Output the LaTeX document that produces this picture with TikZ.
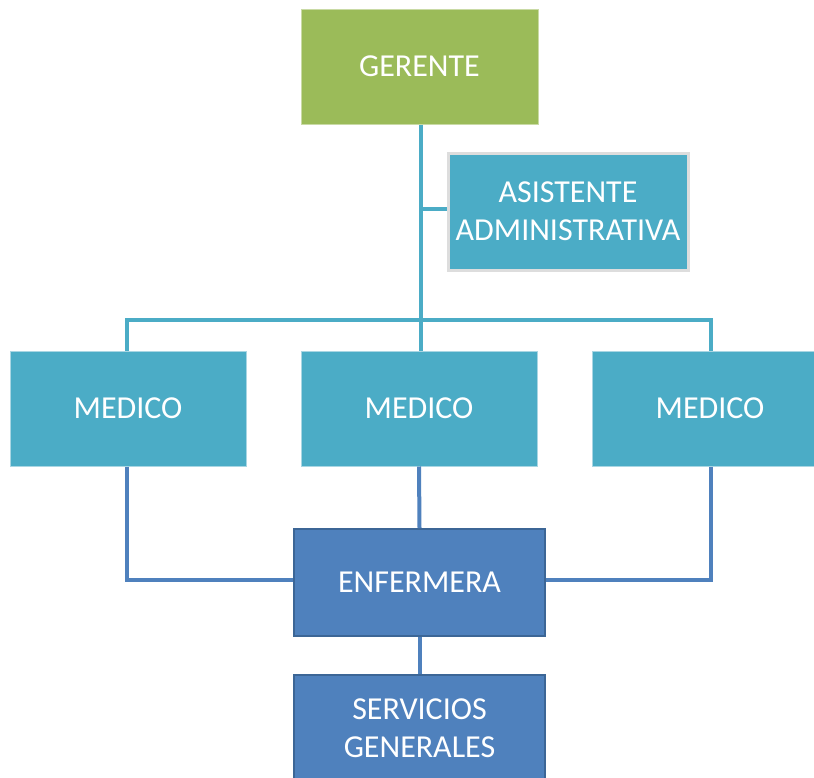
\documentclass[tikz,border=0pt]{standalone}
\usepackage{fontspec}
\setmainfont{Carlito}
\definecolor{gerenteg}{HTML}{9BBB59}
\definecolor{gerenteb}{HTML}{C9DAA5}
\definecolor{tealf}{HTML}{4BACC6}
\definecolor{tealb}{HTML}{A9D6E3}
\definecolor{grayb}{HTML}{DDDDDD}
\definecolor{bluef}{HTML}{4F81BD}
\definecolor{blueb}{HTML}{3C6696}
\begin{document}
\begin{tikzpicture}[x=1pt,y=-1pt,
  box/.style={rectangle, inner sep=0pt, align=center, text=white,
    font=\fontsize{32}{38}\selectfont},
  green box/.style={box, fill=gerenteg, draw=gerenteb, line width=1pt},
  teal box/.style={box, fill=tealf, draw=tealb, line width=1pt},
  asst box/.style={box, fill=tealf, draw=grayb, line width=3pt},
  blue box/.style={box, fill=bluef, draw=blueb, line width=2pt},
  tealline/.style={draw=tealf, line width=4pt},
  blueline/.style={draw=bluef, line width=4pt}]
\useasboundingbox (0,0) rectangle (814,777);
\clip (0,0) rectangle (814,777);
\fill[white] (0,0) rectangle (814,777);

% nodes
\node[green box, minimum width=237pt, minimum height=115pt] (ger) at (419.5,66.5) {GERENTE};
\node[asst box, minimum width=240pt, minimum height=117pt] (asi) at (568,211.5) {ASISTENTE\\ADMINISTRATIVA};
\node[teal box, minimum width=236pt, minimum height=115pt] (m1) at (128,408.5) {MEDICO};
\node[teal box, minimum width=236pt, minimum height=115pt] (m2) at (419,408.5) {MEDICO};
\node[teal box, minimum width=236pt, minimum height=115pt] (m3) at (710,408.5) {MEDICO};
\node[blue box, minimum width=251pt, minimum height=107pt] (enf) at (419.5,582.5) {ENFERMERA};
\node[blue box, minimum width=251pt, minimum height=107pt] (ser) at (419.5,728.5) {SERVICIOS\\GENERALES};

% coordinates
\coordinate (bus) at (421,320);
\coordinate (busL) at (127,320);
\coordinate (busR) at (711,320);
\coordinate (asJ) at (421,209);
\coordinate (cL) at (127,580);
\coordinate (cR) at (711,580);

% teal connectors
\begin{scope}[on background layer/.style={}]
\draw[tealline] (ger.south -| bus) -- (bus);
\draw[tealline] (asJ) -- (asJ -| asi.west);
\draw[tealline, line join=miter] (m1.north -| busL) -- (busL) -- (busR) -- (m3.north -| busR);
\draw[tealline] (bus) -- (m2.north -| bus);
% blue connectors
\draw[blueline, line join=miter] (m1.south -| cL) -- (cL) -- (cL -| enf.west);
\draw[blueline, line join=miter] (m3.south -| cR) -- (cR) -- (cR -| enf.east);
\draw[blueline] (m2.south) -- (enf.north);
\draw[blueline] (enf.south) -- (ser.north);
\end{scope}
\end{tikzpicture}
\end{document}
